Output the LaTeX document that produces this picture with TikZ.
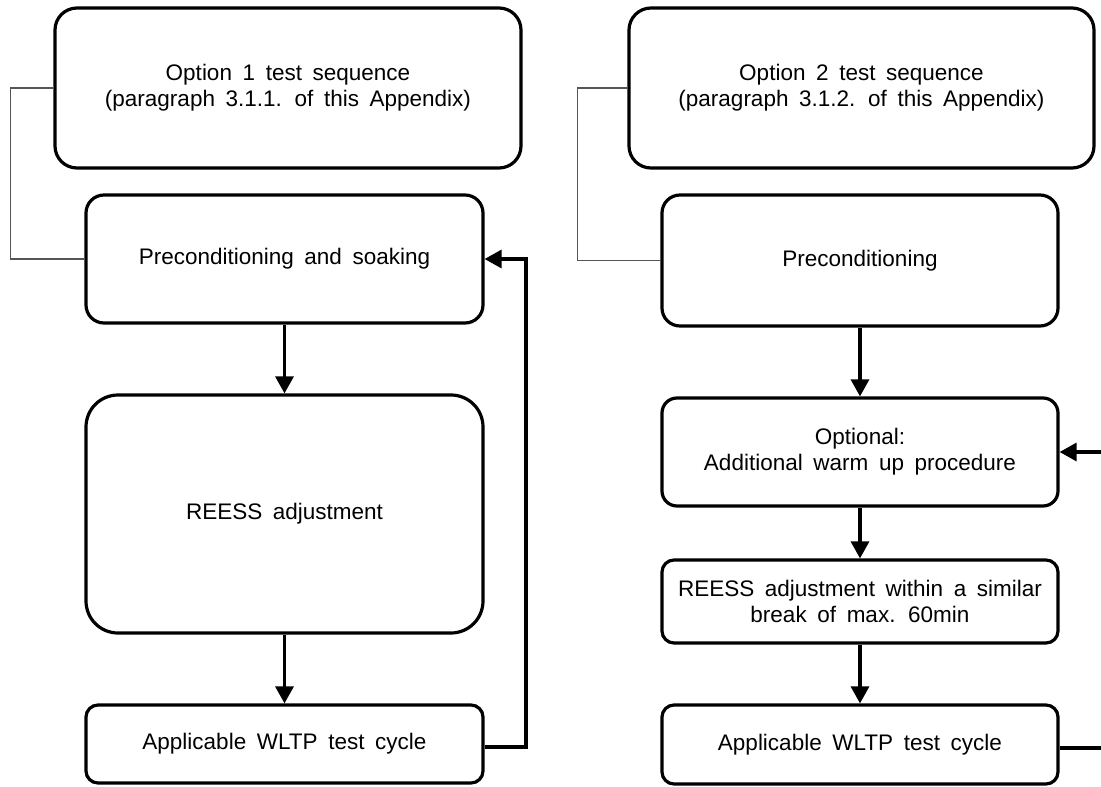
\documentclass[tikz,border=0pt]{standalone}
\usepackage{fontspec}
\setmainfont{Liberation Sans}[WordSpace=1.7]
\usetikzlibrary{arrows.meta,positioning,calc}
\definecolor{liengray}{HTML}{555555}
\tikzset{
  bloc/.style={rectangle, rounded corners=#1, draw=black, line width=3.2pt, fill=white,
               align=center, inner sep=0pt, font=\fontsize{22.5}{26}\selectfont},
  arr/.style={-{Triangle[length=17pt,width=18pt]}, line width=3.2pt, draw=black},
  lien/.style={line width=1.5pt, draw=liengray},
}

\begin{document}
\begin{tikzpicture}[x=1pt, y=-1pt]
\clip (0,0) rectangle (1101,787);
\node[bloc=22pt, minimum width=466pt, minimum height=160pt] (opt1) at (288,88) {Option 1 test sequence\\(paragraph 3.1.1. of this Appendix)};
\node[bloc=18pt, minimum width=397pt, minimum height=128pt] (pre1) at (284.5,259) {Preconditioning and soaking};
\node[bloc=32pt, minimum width=397pt, minimum height=238pt] (adj1) at (284.5,514) {REESS adjustment};
\node[bloc=12pt, minimum width=397pt, minimum height=78pt] (wltp1) at (284.5,744) {Applicable WLTP test cycle};
\draw[arr] (pre1) -- (adj1);
\draw[arr] (adj1) -- (wltp1);
\coordinate (ret1) at (526,747);
\draw[arr] (wltp1.east |- ret1) -- (ret1) |- (pre1.east);
\draw[lien] (opt1.west) -- ++(-43,0) |- (pre1.west);
\node[bloc=22pt, minimum width=465pt, minimum height=160pt] (opt2) at (861.5,88) {Option 2 test sequence\\(paragraph 3.1.2. of this Appendix)};
\node[bloc=18pt, minimum width=396pt, minimum height=131pt] (pre2) at (860,260.5) {Preconditioning};
\node[bloc=15pt, minimum width=396pt, minimum height=108pt] (warm2) at (860,452) {Optional:\\Additional warm up procedure};
\node[bloc=12pt, minimum width=396pt, minimum height=83pt] (adj2) at (860,601.5) {REESS adjustment within a similar\\break of max. 60min};
\node[bloc=12pt, minimum width=396pt, minimum height=79pt] (wltp2) at (860,744.5) {Applicable WLTP test cycle};
\draw[arr] (pre2) -- (warm2);
\draw[arr] (warm2) -- (adj2);
\draw[arr] (adj2) -- (wltp2);
\coordinate (ret2) at (1108,748);
\draw[arr] (wltp2.east |- ret2) -- (ret2) |- (warm2.east);
\draw[lien] (opt2.west) -- ++(-50,0) |- (pre2.west);
\end{tikzpicture}
\end{document}
